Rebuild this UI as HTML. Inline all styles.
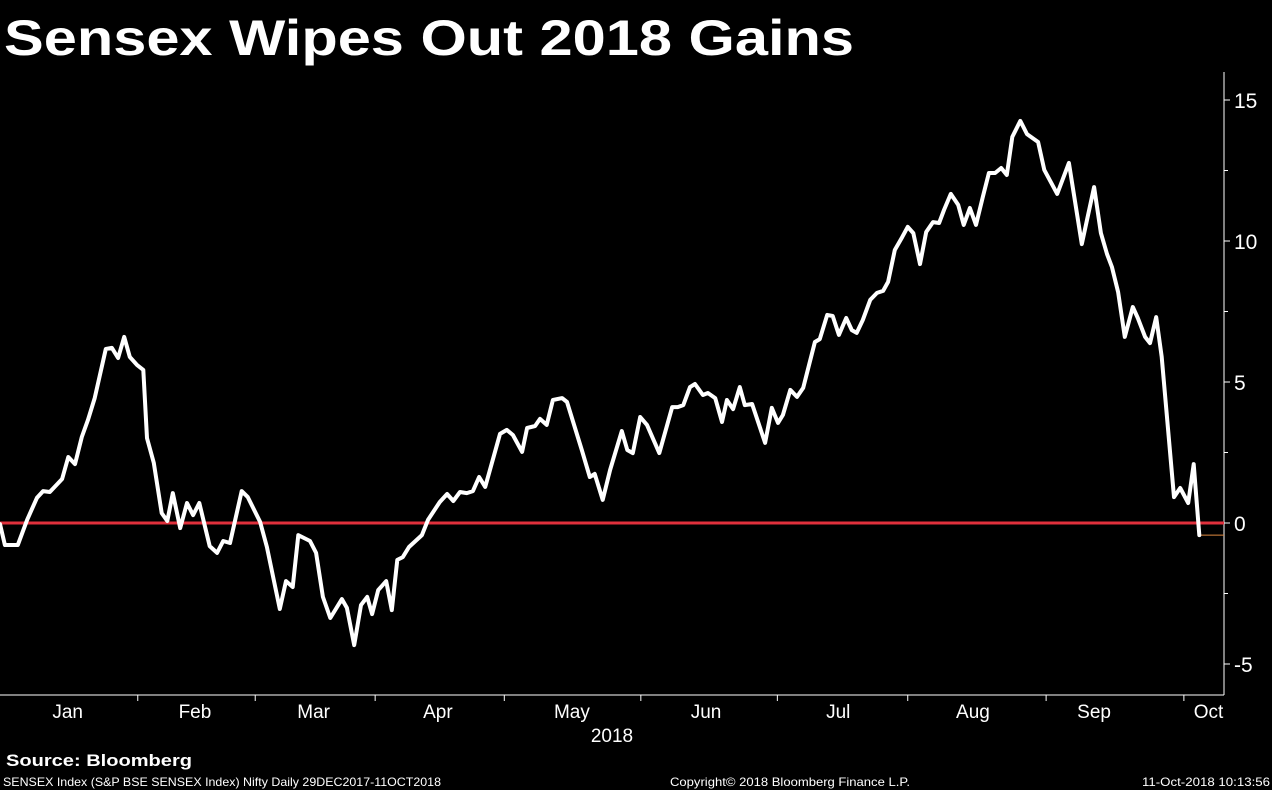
<!DOCTYPE html>
<html><head><meta charset="utf-8"><style>
html,body{margin:0;padding:0;background:#000;width:1272px;height:790px;overflow:hidden}
svg{display:block}
text{font-family:"Liberation Sans",sans-serif;fill:#fff}
</style></head><body>
<svg id="chart" width="1272" height="790" viewBox="0 0 1272 790">
<text x="4" y="55" font-size="50" font-weight="bold" textLength="850" lengthAdjust="spacingAndGlyphs">Sensex Wipes Out 2018 Gains</text>
<g id="axes"></g>
<g id="plot"></g>
<text x="6" y="766" font-size="17" font-weight="bold" textLength="186" lengthAdjust="spacingAndGlyphs">Source: Bloomberg</text>
<text x="3" y="786" font-size="12" textLength="438" lengthAdjust="spacingAndGlyphs">SENSEX Index (S&amp;P BSE SENSEX Index) Nifty  Daily 29DEC2017-11OCT2018</text>
<text x="670" y="786" font-size="12" textLength="240" lengthAdjust="spacingAndGlyphs">Copyright© 2018 Bloomberg Finance L.P.</text>
<text x="1142" y="786" font-size="12" textLength="128" lengthAdjust="spacingAndGlyphs">11-Oct-2018 10:13:56</text>
</svg>
<script>
const days = [0,0.8,2.9,4.4,6.0,7.0,8.1,10.1,11.1,12.2,13.3,14.3,15.4,17.2,18.2,19.2,20.2,21.1,22.3,23.3,23.9,25.0,26.3,27.2,28.1,29.3,30.4,31.4,32.4,34.1,35.3,36.3,37.4,39.3,40.3,42.3,43.4,45.5,46.5,47.6,48.5,50.4,51.4,52.5,53.7,55.6,56.4,57.6,58.7,59.7,60.5,61.5,62.8,63.7,64.6,65.5,66.5,68.6,69.6,71.5,72.7,73.7,74.8,75.9,76.9,77.9,78.9,81.3,82.4,83.4,84.9,85.7,87.0,87.8,88.9,89.9,91.4,92.2,94.6,95.9,96.7,98.0,99.2,101.1,102.0,102.9,104.1,105.2,107.2,109.3,110.2,111.1,112.2,113.0,114.3,115.1,116.3,117.4,118.2,119.2,120.3,121.1,122.3,124.4,125.5,126.5,127.3,128.5,129.6,130.6,132.5,133.3,134.5,135.4,136.4,137.6,138.5,139.3,140.3,141.5,142.6,143.6,144.4,145.5,146.7,147.6,148.5,149.6,150.6,151.7,152.7,153.5,154.6,155.8,156.7,157.7,158.7,159.8,160.8,161.8,162.8,163.7,164.6,165.9,167.0,168.8,169.8,171.9,173.8,175.9,177.9,179.0,180.0,180.8,181.8,182.9,184.2,185.0,186.2,187.0,188.0,188.9,190.9,191.9,193.2,194.1,195.0];
const values = [-0.04,-0.78,-0.78,0.11,0.89,1.13,1.10,1.56,2.34,2.09,3.05,3.65,4.43,6.17,6.21,5.85,6.60,5.89,5.60,5.43,3.01,2.13,0.35,0.07,1.06,-0.18,0.71,0.28,0.71,-0.82,-1.06,-0.64,-0.71,1.13,0.92,0.04,-0.85,-3.05,-2.06,-2.27,-0.43,-0.64,-1.06,-2.62,-3.37,-2.70,-3.01,-4.33,-2.91,-2.62,-3.23,-2.38,-2.06,-3.09,-1.31,-1.21,-0.85,-0.43,0.11,0.74,1.03,0.78,1.10,1.06,1.13,1.63,1.28,3.16,3.30,3.12,2.52,3.37,3.44,3.69,3.48,4.36,4.43,4.29,2.59,1.63,1.74,0.82,1.88,3.26,2.59,2.48,3.76,3.48,2.48,4.11,4.11,4.18,4.82,4.93,4.54,4.61,4.43,3.58,4.36,4.04,4.82,4.18,4.22,2.84,4.08,3.55,3.83,4.72,4.47,4.79,6.42,6.52,7.38,7.34,6.67,7.27,6.84,6.74,7.20,7.91,8.16,8.23,8.55,9.68,10.14,10.50,10.28,9.18,10.32,10.67,10.64,11.10,11.67,11.28,10.57,11.17,10.57,11.56,12.41,12.41,12.59,12.34,13.69,14.26,13.79,13.51,12.52,11.67,12.77,9.89,11.91,10.28,9.54,9.08,8.19,6.60,7.66,7.27,6.60,6.38,7.30,5.89,0.92,1.24,0.71,2.09,-0.43];
const yTicks = [15,10,5,0,-5];
const yMinor = [12.5,7.5,2.5,-2.5];
const monthLabels = ["Jan","Feb","Mar","Apr","May","Jun","Jul","Aug","Sep","Oct"];
const monthCenters = [11,31.7,51,71.2,93,114.8,136.3,158.2,177.9,196.5];
const monthBounds = [22.4,41.5,61,82,104.2,126.4,147.6,170.1,192.5];

const NS="http://www.w3.org/2000/svg";
const X0=0, DX=6.15, Y0=523, DY=28.2, RIGHT=1224, BOTTOM=695, TOP=72;
const xs=d=>X0+d*DX, ys=v=>Y0-v*DY;
function mk(tag,attrs,parent){const e=document.createElementNS(NS,tag);for(const k in attrs)e.setAttribute(k,attrs[k]);parent.appendChild(e);return e;}
const axes=document.getElementById('axes'), plot=document.getElementById('plot');

let a=mk('line',{x1:RIGHT,y1:TOP,x2:RIGHT,y2:BOTTOM,stroke:'#fff','stroke-width':1},axes);


a=mk('line',{x1:0,y1:BOTTOM,x2:RIGHT,y2:BOTTOM,stroke:'#fff','stroke-width':1},axes);



yTicks.forEach(v=>{
  const t=mk('line',{x1:RIGHT,y1:ys(v),x2:RIGHT+6,y2:ys(v),stroke:'#fff'},axes);
  
  
  const l=mk('text',{x:RIGHT+10,y:ys(v)+8,'font-size':21},axes);
  l.textContent=v;
  
  
});
yMinor.forEach(v=>{
  const t=mk('line',{x1:RIGHT,y1:ys(v),x2:RIGHT+4,y2:ys(v),stroke:'#fff'},axes);
  
  
});
monthBounds.forEach(d=>{
  const t=mk('line',{x1:xs(d),y1:BOTTOM,x2:xs(d),y2:BOTTOM+6,stroke:'#fff'},axes);
  
  
});
monthLabels.forEach((m,i)=>{
  const l=mk('text',{x:xs(monthCenters[i]),y:718,'font-size':19,'text-anchor':'middle'},axes);
  l.textContent=m;
  
  
});
a=mk('text',{x:612,y:742,'font-size':19,'text-anchor':'middle'},axes);
a.textContent='2018';



const zl=mk('line',{x1:0,y1:ys(0),x2:RIGHT,y2:ys(0),stroke:'#e0303c','stroke-width':3},plot);



const lastV=values[values.length-1], lastD=days[days.length-1];
const ll=mk('line',{x1:xs(lastD),y1:ys(lastV),x2:RIGHT,y2:ys(lastV),stroke:'#e08a40','stroke-width':1},plot);



const pts=days.map((d,i)=>xs(d).toFixed(1)+','+ys(values[i]).toFixed(1)).join(' ');
const pl=mk('polyline',{points:pts,fill:'none',stroke:'#fff','stroke-width':4,'stroke-linejoin':'round','stroke-linecap':'round'},plot);


</script>
</body></html>
